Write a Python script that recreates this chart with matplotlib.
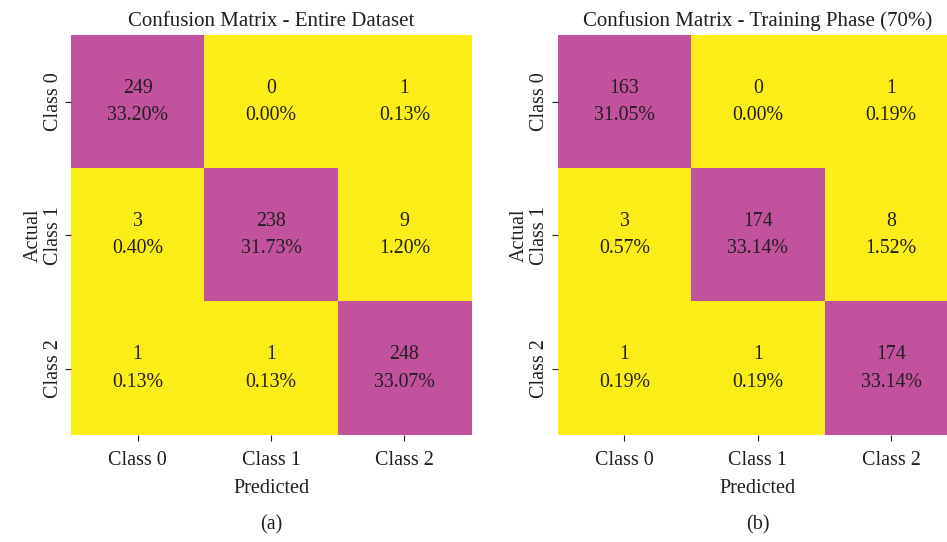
import numpy as np
import matplotlib.pyplot as plt
from matplotlib.colors import ListedColormap

plt.rcParams['font.family'] = ['Liberation Serif', 'DejaVu Serif']

class_names = ['Class 0', 'Class 1', 'Class 2']

# confusion matrices (rows = actual, cols = predicted)
cm_entire = np.array([[249, 0, 1],
                      [3, 238, 9],
                      [1, 1, 248]])
cm_train = np.array([[163, 0, 1],
                     [3, 174, 8],
                     [1, 1, 174]])

titles = ['Confusion Matrix - Entire Dataset', 'Confusion Matrix - Training Phase (70%)']
captions = ['(a)', '(b)']

cmap = ListedColormap(['#FBEE18', '#C2519E'])
txt_color = '#231F20'

fig = plt.figure(figsize=(9.47, 5.42), dpi=100)
boxes = [[0.075, 0.197, 0.4225, 0.738], [0.589, 0.197, 0.4225, 0.738]]

for box, cm, title, cap in zip(boxes, [cm_entire, cm_train], titles, captions):
    ax = fig.add_axes(box)
    total = cm.sum()
    ax.imshow(cm, cmap=cmap, vmin=0, vmax=cm.max(), aspect='auto')
    for i in range(cm.shape[0]):
        for j in range(cm.shape[1]):
            ax.text(j, i, f"{cm[i, j]}\n{cm[i, j] / total * 100:.2f}%",
                    ha='center', va='center', fontsize=14.3, color=txt_color,
                    linespacing=1.6)
    ax.set_xticks(range(3))
    ax.set_yticks(range(3))
    ax.set_xticklabels(class_names, fontsize=14.5, color=txt_color)
    ax.set_yticklabels(class_names, fontsize=14.5, color=txt_color, rotation=90, va='center')
    ax.tick_params(length=4, width=0.8, color=txt_color)
    ax.tick_params(axis='x', pad=7)
    ax.tick_params(axis='y', pad=2)
    for s in ax.spines.values():
        s.set_visible(False)
    ax.set_title(title, fontsize=15, color=txt_color, pad=7)
    ax.set_xlabel('Predicted', fontsize=14.5, color=txt_color, labelpad=7)
    ax.set_ylabel('Actual', fontsize=14.5, color=txt_color, labelpad=1)
    ax.text(0.5, -0.225, cap, transform=ax.transAxes, ha='center', va='center',
            fontsize=14.5, color=txt_color)

fig.savefig('out.png', dpi=100)
